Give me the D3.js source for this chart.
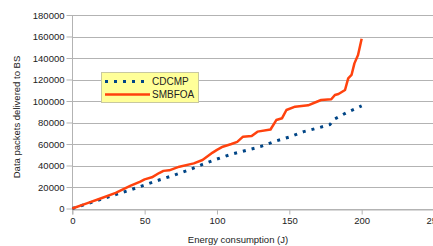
<!DOCTYPE html>
<html>
<head>
<meta charset="utf-8">
<script src="https://cdn.jsdelivr.net/npm/d3@7"></script>
<style>
  body { margin: 0; background: #fff; }
  text { font-family: "Liberation Sans", Arial, sans-serif; fill: #222; }
</style>
</head>
<body>
<svg id="chart" width="433" height="246"></svg>
<script>
// series
const cdcmpX = [0, 10, 20, 30, 40, 50, 60, 70, 80, 90, 100, 110, 120, 130, 140, 150, 160, 170, 178, 181, 190, 200];
const cdcmpY = [0, 4300, 8600, 13000, 17200, 21900, 26500, 30800, 35500, 41000, 46000, 50500, 54000, 57500, 62500, 66500, 71500, 75000, 78000, 83000, 89500, 95500];

const smbfoaX = [0, 10, 20, 30, 40, 47, 50, 55, 60, 63, 67, 74, 84, 90, 97, 100, 104, 110, 114, 118, 124, 128, 137, 141, 145, 148, 154, 163, 169, 172, 179, 181.5, 184, 188.5, 190.7, 193, 195, 197.5, 200];
const smbfoaY = [0, 4800, 9500, 14500, 21000, 25000, 27100, 29000, 33000, 35000, 35500, 38900, 42000, 45100, 52000, 54500, 57500, 60000, 62000, 66800, 67400, 71500, 73500, 82300, 84000, 91600, 94700, 96000, 99300, 100900, 101600, 105600, 106500, 110200, 121100, 124200, 135000, 142800, 158000];

const xTicks = [0, 50, 100, 150, 200, 250];
const yTicks = [0, 20000, 40000, 60000, 80000, 100000, 120000, 140000, 160000, 180000];
const seriesNames = ['CDCMP', 'SMBFOA'];
const seriesColors = ['#004586', '#ff420e'];

const svg = d3.select('#chart');

const x = d3.scaleLinear().domain([0, 250]).range([72.3, 434]);
const y = d3.scaleLinear().domain([0, 180000]).range([208.5, 15]);

// grid
svg.append('g')
    .selectAll('line')
    .data(yTicks)
    .enter()
    .append('line')
    .attr('x1', x(0))
    .attr('x2', 433)
    .attr('y1', d => Math.round(y(d)) + 0.5)
    .attr('y2', d => Math.round(y(d)) + 0.5)
    .attr('stroke', '#b3b3b3')
    .attr('stroke-width', 1);

const yAxis = d3.axisLeft(y).tickValues(yTicks).tickSize(6).tickPadding(2).tickFormat(d3.format('d'));
const xAxis = d3.axisBottom(x).tickValues(xTicks).tickSize(5).tickPadding(3).tickFormat(d3.format('d'));

const gy = svg.append('g')
    .attr('transform', 'translate(' + (Math.round(x(0)) + 0.5) + ',0)')
    .call(yAxis);
const gx = svg.append('g')
    .attr('transform', 'translate(0,' + (Math.round(y(0)) + 0.5) + ')')
    .call(xAxis);

[gx, gy].forEach(g => {
  g.selectAll('.domain').attr('stroke', '#b3b3b3');
  g.selectAll('.tick line').attr('stroke', '#b3b3b3');
  g.selectAll('text').style('font-size', '9.5px').attr('fill', '#222')
      .style('font-family', '"Liberation Sans", Arial, sans-serif');
});
gy.select('.domain').attr('d', 'M0,' + y(180000) + 'V' + y(0));

// lines
const line = d3.line()
    .x(d => x(d[0]))
    .y(d => y(d[1]));

svg.append('path')
    .datum(d3.zip(cdcmpX, cdcmpY))
    .attr('d', line)
    .attr('fill', 'none')
    .attr('stroke', seriesColors[0])
    .attr('stroke-width', 3)
    .attr('stroke-dasharray', '3,6');

svg.append('path')
    .datum(d3.zip(smbfoaX, smbfoaY))
    .attr('d', line)
    .attr('fill', 'none')
    .attr('stroke', seriesColors[1])
    .attr('stroke-width', 2.5)
    .attr('stroke-linejoin', 'round');

// axis titles
svg.append('text')
    .attr('x', 238)
    .attr('y', 243)
    .attr('text-anchor', 'middle')
    .style('font-size', '9.5px')
    .text('Energy consumption (J)');

svg.append('text')
    .attr('transform', 'translate(20,117) rotate(-90)')
    .attr('text-anchor', 'middle')
    .style('font-size', '9.5px')
    .text('Data packets delivered to BS');

// legend
const legend = svg.append('g');
legend.append('rect')
    .attr('x', 101.5)
    .attr('y', 72.5)
    .attr('width', 97)
    .attr('height', 30)
    .attr('fill', '#ffff99')
    .attr('stroke', '#c8c8a0');

seriesNames.forEach((name, i) => {
  const ly = 81.5 + i * 13;
  legend.append('line')
      .attr('x1', 105)
      .attr('x2', i === 0 ? 146 : 150)
      .attr('y1', ly)
      .attr('y2', ly)
      .attr('stroke', seriesColors[i])
      .attr('stroke-width', i === 0 ? 3 : 2.5)
      .attr('stroke-dasharray', i === 0 ? '3,6' : null);
  legend.append('text')
      .attr('x', 152)
      .attr('y', ly + 3.5)
      .style('font-size', '10px')
      .text(name);
});
</script>
</body>
</html>
